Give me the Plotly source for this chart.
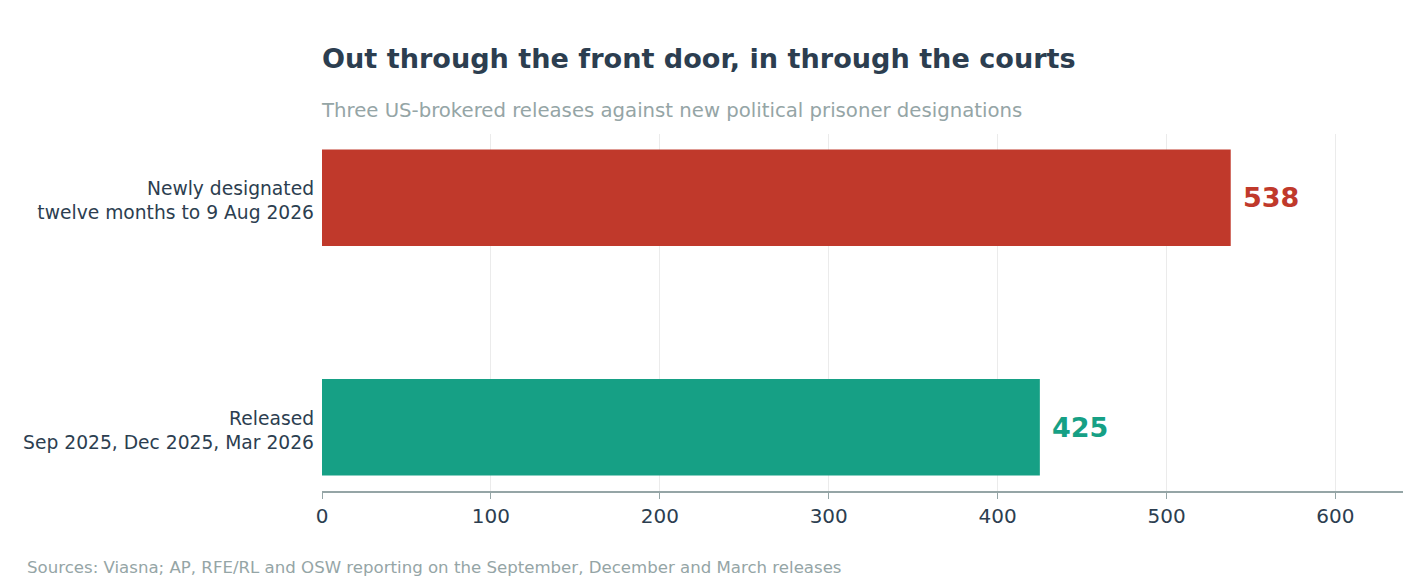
import plotly.graph_objects as go

categories = ["Released<br>Sep 2025, Dec 2025, Mar 2026",
              "Newly designated<br>twelve months to 9 Aug 2026"]
values = [425, 538]
colors = ["#16a085", "#c0392b"]
tick_vals = [0, 100, 200, 300, 400, 500, 600]

title = "Out through the front door, in through the courts"
subtitle = "Three US-brokered releases against new political prisoner designations"
source = "Sources: Viasna; AP, RFE/RL and OSW reporting on the September, December and March releases"

FONT = "DejaVu Sans"
W, H = 1417, 577          # page has an 8px body margin
L, R, T, B = 314, 22, 126, 94
PW, PH = W - L - R, H - T - B


def px_x(x):  # figure px -> paper x
    return (x - L) / PW


def px_y(y):  # figure px -> paper y
    return (H - B - y) / PH


fig = go.Figure(go.Bar(
    x=values, y=categories, orientation="h",
    marker=dict(color=colors, line=dict(width=0)),
    width=0.42, hoverinfo="skip",
))

for v, c, col in zip(values, categories, colors):
    fig.add_annotation(x=v, y=c, xref="x", yref="y", text=f"<b>{v}</b>",
                       showarrow=False, xanchor="left", yanchor="middle", xshift=10,
                       font=dict(family=FONT, size=27, color=col))

fig.add_annotation(x=0, xref="paper", xanchor="left", xshift=-3, y=px_y(102), yref="paper",
                   yanchor="middle", text=subtitle, showarrow=False,
                   font=dict(family=FONT, size=19.7, color="#95a5a6"))
fig.add_annotation(x=px_x(20), xref="paper", xanchor="left", xshift=-3, y=px_y(559), yref="paper",
                   yanchor="middle", text=source, showarrow=False,
                   font=dict(family=FONT, size=16.6, color="#95a5a6"))

fig.update_layout(
    width=W, height=H,
    paper_bgcolor="white", plot_bgcolor="white",
    margin=dict(l=L, r=R, t=T, b=B),
    showlegend=False,
    title=dict(text=f"<b>{title}</b>", x=0, xref="paper", xanchor="left",
               y=1 - 51 / H, yref="container", yanchor="middle",
               font=dict(family=FONT, size=27.1, color="#2c3e50")),
    font=dict(family=FONT, color="#2c3e50"),
    xaxis=dict(range=[0, 640], tickvals=tick_vals, showgrid=True, gridcolor="#ebebeb",
               gridwidth=1, zeroline=False, showline=True, linecolor="#95a5a6", linewidth=2,
               ticks="outside", ticklen=6, tickcolor="#95a5a6", tickwidth=1,
               tickfont=dict(family=FONT, size=20, color="#2c3e50")),
    yaxis=dict(range=[-0.278, 1.278], showgrid=False, zeroline=False, showline=False,
               ticks="", tickfont=dict(family=FONT, size=18.7, color="#2c3e50"),
               ticklabelstandoff=7, ticklabelshift=3),
)

fig.write_html("out.html")
